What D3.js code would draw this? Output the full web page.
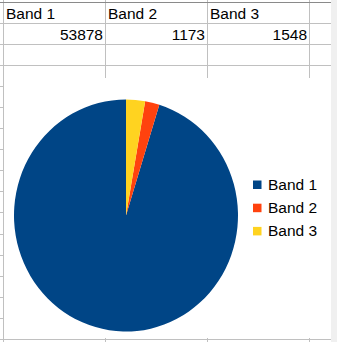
<!DOCTYPE html>
<html>
<head>
<meta charset="utf-8">
<script src="https://cdn.jsdelivr.net/npm/d3@7"></script>
<style>
  body { margin: 0; background: #fff; }
  svg { display: block; font-family: "Liberation Sans", Arial, sans-serif; }
</style>
</head>
<body>
<svg id="sheet"></svg>
<script>
const categories = ["Band 1", "Band 2", "Band 3"];
const values = [53878, 1173, 1548];
const colors = ["#004586", "#ff420e", "#ffd320"];

let width = 337,
  height = 342;

let svg = d3.select("#sheet").attr("width", width).attr("height", height);

// Spreadsheet grid
let colX = [3, 105, 207, 309];
let rowY = d3.range(23, 342, 21.05).map(Math.round);

svg.append("rect").attr("x", 331).attr("y", 0).attr("width", 6).attr("height", height).attr("fill", "#f0f0f0");

let grid = svg.append("g").attr("stroke", "#c0c0c0").attr("shape-rendering", "crispEdges");
colX.forEach((x) => {
  grid.append("line").attr("x1", x + 0.5).attr("x2", x + 0.5).attr("y1", 0).attr("y2", height);
});
rowY.forEach((y) => {
  grid.append("line").attr("x1", 0).attr("x2", 331).attr("y1", y + 0.5).attr("y2", y + 0.5);
});
svg.append("line")
  .attr("x1", 0).attr("x2", 331).attr("y1", 2.5).attr("y2", 2.5)
  .attr("stroke", "#8a8a8a").attr("shape-rendering", "crispEdges");

// Cells
let cells = svg.append("g").style("font-size", "15.5px").attr("fill", "#000");
categories.forEach((c, i) => {
  cells.append("text").attr("x", colX[i] + 3).attr("y", 19).text(c);
  cells.append("text").attr("x", colX[i + 1] - 2).attr("y", 39.5)
    .attr("text-anchor", "end").text(values[i]);
});

// Chart area
svg.append("rect").attr("x", 4).attr("y", 78).attr("width", 327).attr("height", 260).attr("fill", "#fff");

let rx = 112, ry = 116, cx = 126, cy = 215.5;

let pie = d3.pie().sort(null).startAngle(0).endAngle(-2 * Math.PI);
let arc = d3.arc().innerRadius(0).outerRadius(rx);

svg.append("g")
  .attr("transform", "translate(" + cx + "," + cy + ") scale(1," + ry / rx + ")")
  .selectAll("path")
  .data(pie(values))
  .enter()
  .append("path")
  .attr("d", arc)
  .attr("fill", (d, i) => colors[i]);

// Legend
let legend = svg.append("g").selectAll("g")
  .data(categories)
  .enter()
  .append("g")
  .attr("transform", (d, i) => "translate(253," + (180.5 + i * 23.2) + ")");

legend.append("rect").attr("width", 8.5).attr("height", 8.5).attr("fill", (d, i) => colors[i]);
legend.append("text").attr("x", 15).attr("y", 9).style("font-size", "15.5px").text((d) => d);
</script>
</body>
</html>
